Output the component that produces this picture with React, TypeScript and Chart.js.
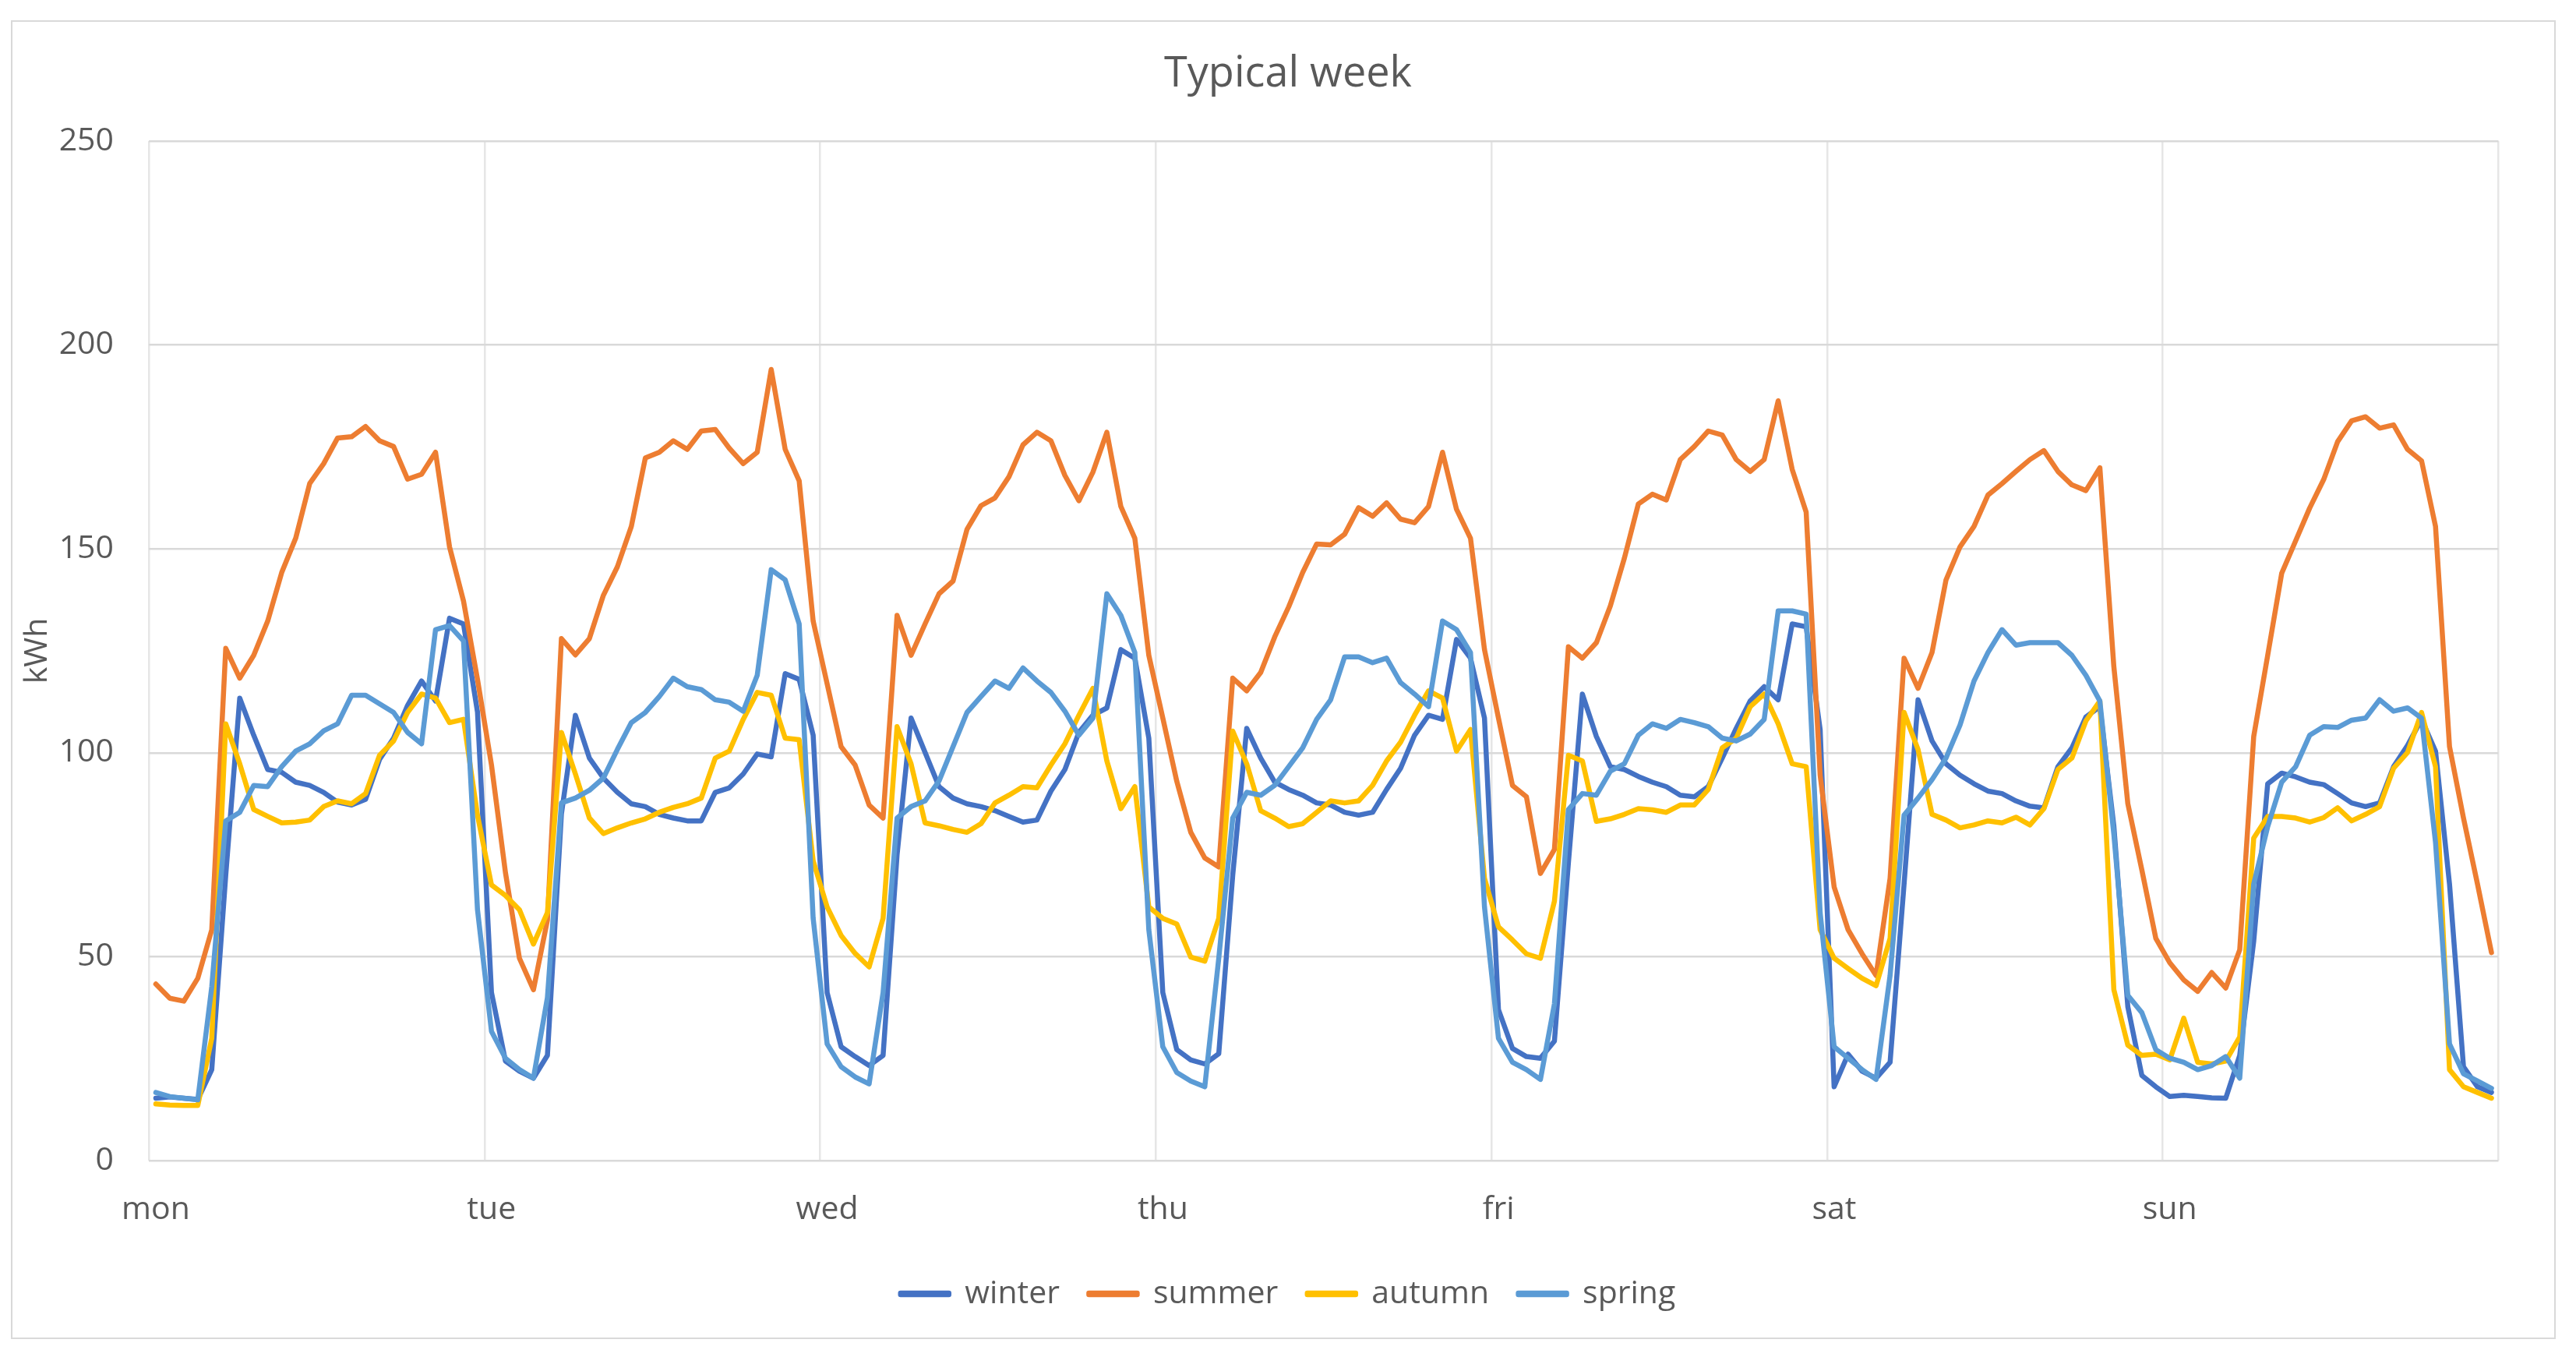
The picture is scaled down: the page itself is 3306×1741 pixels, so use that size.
import React, { useEffect, useRef } from 'react';
import { Chart, registerables } from 'chart.js';

Chart.register(...registerables);

// ---- data ----
const days = ['mon', 'tue', 'wed', 'thu', 'fri', 'sat', 'sun'];
const hoursPerDay = 24;
const categories = days.flatMap((d) =>
  Array.from({ length: hoursPerDay }, (_, h) => `${d} ${String(h).padStart(2, '0')}:00`)
);
const yMin = 0;
const yMax = 250;
const yStep = 50;
const seriesNames = ['winter', 'summer', 'autumn', 'spring'];

const winter = [
  15.3, 15.6, 15.3, 15, 22.3, 70, 113.4, 104.3, 95.9, 95.2, 92.8, 92, 90.3, 87.9, 87.2, 88.6, 98.4, 103.6, 111.6, 117.6, 112.7, 133, 131.6, 110,
  41.2, 24.4, 21.9, 20.2, 25.8, 85, 109.2, 98.7, 93.8, 90.3, 87.5, 86.8, 84.9, 84, 83.3, 83.3, 90.3, 91.4, 94.8, 99.7, 99, 119.4, 118, 104.3,
  41.2, 27.9, 25.5, 23.3, 25.8, 75, 108.5, 100.1, 91.7, 88.9, 87.5, 86.8, 85.8, 84.4, 83, 83.5, 90.6, 95.9, 105, 109.2, 111, 125.3, 123.2, 103.6,
  41.2, 27.2, 24.7, 23.7, 26.2, 70, 106, 98.7, 92.8, 91, 89.6, 87.7, 87.2, 85.4, 84.7, 85.4, 91, 96.2, 104.3, 109.2, 108.2, 127.8, 123.2, 108.5,
  37, 27.5, 25.5, 25.1, 29.3, 73, 114.4, 104, 96.6, 95.9, 94.2, 92.8, 91.7, 89.6, 89.2, 91.7, 98.7, 106, 112.7, 116.2, 113, 131.6, 130.9, 105.7,
  18.1, 26.1, 21.9, 20.2, 24.1, 67.8, 113, 102.9, 97.3, 94.5, 92.4, 90.6, 90, 88.2, 86.9, 86.5, 96.6, 101.2, 108.8, 111.3, 82, 37.7, 20.9, 18.1,
  15.7, 16, 15.7, 15.4, 15.3, 25.8, 53.8, 92.4, 95, 94.1, 92.8, 92.2, 90, 87.7, 86.8, 87.7, 96.6, 101.8, 108.2, 100.4, 67.8, 23, 18.1, 16.7,
];

const summer = [
  43.3, 39.8, 39.1, 44.7, 56.6, 125.6, 118.3, 123.9, 132.3, 144.2, 152.6, 166, 170.9, 177.2, 177.5, 180, 176.5, 175.1, 167.1, 168.3, 173.7, 150.5, 137.2, 118,
  97, 70.6, 49.6, 41.9, 59, 128, 124, 128, 138.6, 145.6, 155.5, 172.3, 173.7, 176.5, 174.4, 178.9, 179.3, 174.7, 170.9, 173.7, 194, 174.4, 166.7, 132.3,
  116.9, 101.5, 97, 87.2, 84, 133.7, 123.9, 131.6, 139, 142.1, 154.8, 160.6, 162.5, 167.7, 175.5, 178.6, 176.5, 168, 161.8, 168.8, 178.6, 160.4, 152.6, 123.9,
  108.5, 93, 80.5, 74.2, 72, 118.3, 115.2, 119.7, 128.4, 135.8, 144.2, 151.2, 151, 153.6, 160.1, 158, 161.3, 157.3, 156.4, 160.4, 173.7, 159.7, 152.6, 125.3,
  108.5, 92, 89.2, 70.4, 76.3, 126, 123.2, 127, 136, 147.7, 161, 163.4, 162, 171.9, 175.1, 178.9, 177.9, 171.9, 169, 171.9, 186.3, 169.5, 159, 94.5,
  67.1, 56.6, 50.7, 45.4, 69.2, 123.2, 115.8, 124.6, 142.4, 150.5, 155.5, 163.2, 166, 169, 171.9, 174.1, 169, 165.7, 164.3, 169.9, 121.1, 87.5, 71.3, 54.5,
  48.5, 44.3, 41.5, 46.1, 42.3, 51.7, 104, 123.9, 144, 152, 160, 167, 176.3, 181.4, 182.4, 179.6, 180.4, 174.4, 171.6, 155.5, 101.5, 84, 67.8, 51,
];

const autumn = [
  13.9, 13.6, 13.5, 13.5, 30, 107.1, 97.3, 86.1, 84.4, 82.8, 83, 83.5, 86.8, 88.2, 87.5, 90, 99.4, 102.9, 109.9, 114.4, 113.4, 107.4, 108.2, 84.7,
  67.6, 65, 61.5, 53.1, 60.8, 105, 94.8, 84, 80.2, 81.6, 82.8, 83.8, 85.4, 86.6, 87.5, 88.9, 98.7, 100.4, 108.2, 114.8, 114.1, 103.6, 103.2, 73.5,
  62.2, 55.2, 50.8, 47.5, 59.4, 106.4, 97.3, 82.8, 82.1, 81.2, 80.5, 82.6, 87.7, 89.6, 91.7, 91.4, 97, 102.2, 109.2, 115.8, 98, 86.3, 91.7, 62.2,
  59.4, 58, 49.9, 48.9, 59.4, 105.3, 97.3, 85.8, 84, 81.9, 82.6, 85.4, 88.2, 87.7, 88.2, 92, 98, 102.6, 109.2, 115.2, 113.4, 100.4, 105.7, 69.2,
  57.3, 54.1, 50.7, 49.6, 63.6, 99.4, 98, 83.2, 83.8, 84.9, 86.3, 86, 85.4, 87.2, 87.2, 91, 101.2, 103.6, 111.3, 114.4, 107.1, 97.3, 96.6, 56.6,
  49.6, 47.1, 44.7, 42.9, 54.5, 109.9, 100.8, 84.9, 83.5, 81.6, 82.3, 83.3, 82.8, 84.2, 82.3, 86.3, 95.9, 98.7, 107.8, 112.7, 41.9, 28.3, 25.8, 26.1,
  24.7, 34.9, 24.1, 23.7, 24.4, 30.3, 79.1, 84.4, 84.4, 84, 83, 84.1, 86.5, 83.3, 84.9, 86.8, 96.2, 100.1, 109.9, 96.6, 22.3, 18.1, 16.7, 15.3,
];

const spring = [
  16.7, 15.7, 15.3, 14.9, 42.6, 83.3, 85.4, 92, 91.7, 96.6, 100.4, 102.2, 105.4, 107.1, 114.1, 114.1, 112, 109.9, 105, 102.2, 130.2, 131.2, 127.4, 61.5,
  31.7, 25.1, 22.3, 20.2, 40, 87.7, 88.9, 90.8, 93.8, 100.8, 107.4, 109.9, 113.8, 118.3, 116.2, 115.5, 113, 112.4, 110.2, 119, 144.9, 142.4, 131.6, 59.4,
  28.6, 23, 20.5, 18.8, 41.2, 84, 86.8, 88.2, 93.1, 101.5, 109.9, 113.8, 117.6, 115.8, 120.8, 117.6, 114.8, 110.2, 104.3, 108.5, 139, 133.7, 124.6, 56.6,
  27.9, 21.6, 19.5, 18.1, 49.6, 84, 90.3, 89.6, 92, 96.6, 101.2, 108.2, 113, 123.5, 123.5, 122.1, 123.2, 117.2, 114.4, 111.3, 132.3, 130.2, 124.6, 62.2,
  30, 24.1, 22.3, 19.9, 38.4, 86.1, 90, 89.6, 95.5, 97.3, 104.3, 107.1, 106, 108.2, 107.4, 106.4, 103.6, 102.9, 104.6, 108.2, 134.8, 134.8, 134, 60.8,
  27.9, 25.1, 22.3, 19.9, 45.4, 84.7, 88.9, 93.4, 98.7, 106.8, 117.6, 124.6, 130.2, 126.4, 127, 127, 127, 123.9, 119, 112.7, 80, 40.5, 36.3, 27.2,
  25.1, 24.1, 22.3, 23.3, 25.5, 20.2, 67.8, 81.9, 92.8, 96.6, 104.3, 106.4, 106.2, 108, 108.5, 113, 110.2, 111, 108.5, 78, 28.6, 21.3, 19.5, 17.7,
];

const seriesValues = [winter, summer, autumn, spring];
const seriesColors = ['#4472C4', '#ED7D31', '#FFC000', '#5B9BD5'];

// ---- page / style ----
const W = 3306;
const H = 1741;
const FONT = "'Open Sans', 'Noto Sans', sans-serif";
const TEXT = '#595959';

export default function App() {
  const ref = useRef<HTMLCanvasElement | null>(null);

  useEffect(() => {
    const canvas = ref.current;
    if (!canvas) return;
    const chart = new Chart(canvas, {
      type: 'line',
      data: {
        labels: categories,
        datasets: seriesNames.map((name, i) => ({
          label: name,
          data: seriesValues[i],
          borderColor: seriesColors[i],
          backgroundColor: seriesColors[i],
          borderWidth: 6.5,
          pointRadius: 0,
          pointHoverRadius: 0,
          tension: 0,
          fill: false,
          borderJoinStyle: 'round',
          borderCapStyle: 'round',
          order: seriesNames.length - i,
          yAxisID: 'y',
        })),
      },
      options: {
        responsive: false,
        animation: false,
        devicePixelRatio: 1,
        events: [],
        layout: { padding: { left: 0, right: 0, top: 0, bottom: 50.5 } },
        plugins: {
          title: {
            display: true,
            text: 'Typical week',
            color: TEXT,
            font: { family: FONT, size: 54, weight: 'normal', lineHeight: 1.2 },
            padding: { top: 63.6, bottom: 52.6 },
          },
          legend: {
            position: 'bottom',
            labels: {
              color: TEXT,
              font: { family: FONT, size: 41 },
              boxWidth: 62,
              boxHeight: 2,
              padding: 37.5,
              sort: (a: any, b: any) => a.datasetIndex - b.datasetIndex,
            },
          },
          tooltip: { enabled: false },
        },
        scales: {
          x: {
            type: 'category',
            offset: true,
            grid: {
              offset: true,
              drawTicks: false,
              color: (ctx: any) =>
                ctx.index === undefined || ctx.index % hoursPerDay === 0 ? '#e6e6e6' : 'rgba(0,0,0,0)',
              lineWidth: 2.5,
            },
            border: { display: false },
            ticks: {
              autoSkip: false,
              maxRotation: 0,
              minRotation: 0,
              padding: 39,
              color: TEXT,
              font: { family: FONT, size: 41 },
              callback: (_v: any, i: number) => (i % hoursPerDay === 0 ? days[i / hoursPerDay] : ''),
            },
            afterFit: (s: any) => {
              s.height = 113;
            },
          },
          y: {
            min: yMin,
            max: yMax,
            ticks: {
              stepSize: yStep,
              padding: 45,
              color: TEXT,
              font: { family: FONT, size: 41 },
            },
            grid: { color: '#d9d9d9', lineWidth: 2.5, drawTicks: false },
            border: { display: false },
            title: {
              display: true,
              text: 'kWh',
              color: TEXT,
              font: { family: FONT, size: 41, lineHeight: 1.2 },
              padding: { top: 23.4, bottom: 0 },
            },
            afterFit: (s: any) => {
              s.width = 191;
            },
          },
          y2: {
            position: 'right',
            display: true,
            grid: { display: false },
            border: { display: false },
            ticks: { display: false },
            afterFit: (s: any) => {
              s.width = 99.5;
            },
          },
        },
      } as any,
    });
    return () => chart.destroy();
  }, []);

  return (
    <div
      style={{
        position: 'fixed',
        left: 0,
        top: 0,
        width: W,
        height: H,
        background: '#ffffff',
        overflow: 'hidden',
      }}
    >
      <canvas
        ref={ref}
        width={W}
        height={H}
        style={{ position: 'absolute', left: 0, top: 0, width: W, height: H, display: 'block' }}
      />
      <div
        style={{
          position: 'absolute',
          left: 14,
          top: 26,
          width: 3266,
          height: 1692,
          border: '2.5px solid #d9d9d9',
          boxSizing: 'border-box',
          pointerEvents: 'none',
        }}
      />
    </div>
  );
}
